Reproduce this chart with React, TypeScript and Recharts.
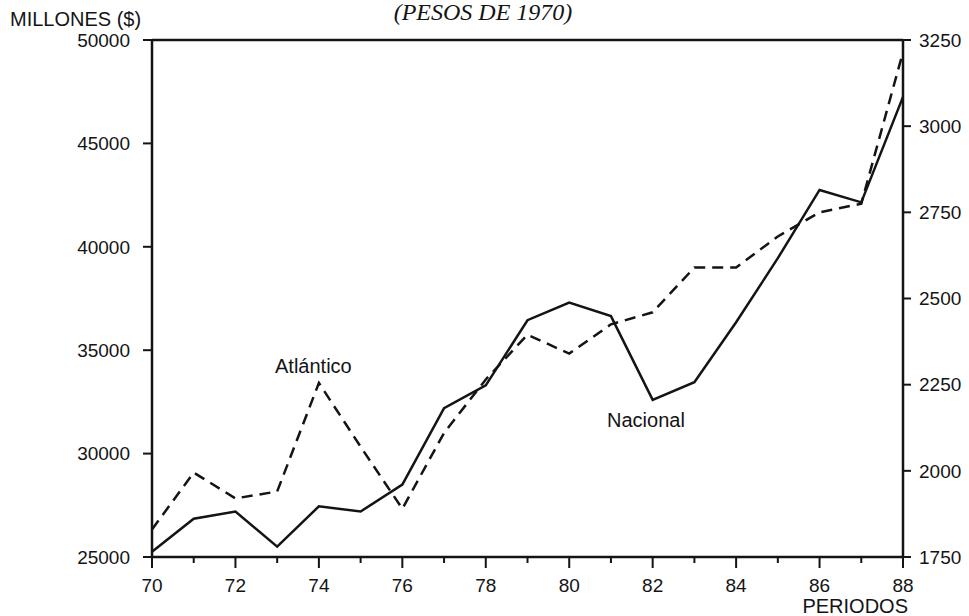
import React from 'react';
import { LineChart, Line, XAxis, YAxis, ReferenceLine } from 'recharts';

// años 1970-1988 (eje de periodos)
const years = [70, 71, 72, 73, 74, 75, 76, 77, 78, 79, 80, 81, 82, 83, 84, 85, 86, 87, 88];
// PIB Nacional, millones de pesos de 1970 (eje izquierdo)
const nacional = [25250, 26850, 27200, 25500, 27450, 27200, 28500, 32200, 33300, 36450, 37300, 36650, 32600, 33450, 36350, 39450, 42750, 42150, 47250];
// PIB Atlántico (eje derecho)
const atlantico = [1830, 1995, 1920, 1940, 2255, 2070, 1890, 2110, 2265, 2395, 2340, 2425, 2460, 2590, 2590, 2680, 2750, 2775, 3215];

const leftTicks = [25000, 30000, 35000, 40000, 45000, 50000];
const rightTicks = [1750, 2000, 2250, 2500, 2750, 3000, 3250];

const FONT = '"Liberation Sans", Arial, Helvetica, sans-serif';
const INK = '#141414';

const data = years.map((year, i) => ({
  year,
  nacional: nacional[i],
  atlantico: atlantico[i],
}));

const YearTick = (props: any) => {
  const { x, y, payload } = props;
  const major = payload.value % 2 === 0;
  return (
    <g>
      <line x1={x} y1={y} x2={x} y2={y + (major ? 11 : 6)} stroke={INK} strokeWidth={2} />
      {major && (
        <text x={x} y={y + 35} textAnchor="middle" fontSize={19} fontFamily={FONT} fill={INK}>
          {payload.value}
        </text>
      )}
    </g>
  );
};

export default function App() {
  return (
    <div style={{ position: 'absolute', left: 0, top: 0, width: 969, height: 616, background: '#fff' }}>
      <LineChart
        width={969}
        height={616}
        data={data}
        margin={{ top: 40, right: 0, left: 92, bottom: 29 }}
      >
        <XAxis
          dataKey="year"
          type="number"
          domain={[70, 88]}
          ticks={years}
          interval={0}
          tickLine={false}
          tickSize={0}
          tickMargin={0}
          height={30}
          axisLine={{ stroke: INK, strokeWidth: 2.5 }}
          tick={<YearTick />}
        />
        <YAxis
          yAxisId="left"
          orientation="left"
          domain={[25000, 50000]}
          ticks={leftTicks}
          interval={0}
          width={60}
          tickSize={9}
          tickMargin={13}
          axisLine={{ stroke: INK, strokeWidth: 2.5 }}
          tickLine={{ stroke: INK, strokeWidth: 2 }}
          tick={{ fill: INK, fontSize: 19, fontFamily: FONT }}
        />
        <YAxis
          yAxisId="right"
          orientation="right"
          domain={[1750, 3250]}
          ticks={rightTicks}
          interval={0}
          width={66}
          tickSize={8}
          tickMargin={8}
          axisLine={{ stroke: INK, strokeWidth: 2.5 }}
          tickLine={{ stroke: INK, strokeWidth: 2 }}
          tick={{ fill: INK, fontSize: 19, fontFamily: FONT, textAnchor: 'start' }}
        />
        <ReferenceLine yAxisId="left" y={50000} stroke={INK} strokeWidth={2.5} />
        <Line
          yAxisId="left"
          dataKey="nacional"
          stroke={INK}
          strokeWidth={2.5}
          dot={false}
          isAnimationActive={false}
        />
        <Line
          yAxisId="right"
          dataKey="atlantico"
          stroke={INK}
          strokeWidth={2.5}
          strokeDasharray="11 7"
          dot={false}
          isAnimationActive={false}
        />
      </LineChart>
      <svg
        width={969}
        height={616}
        style={{ position: 'absolute', left: 0, top: 0, pointerEvents: 'none' }}
      >
        <text x={483} y={20} textAnchor="middle" fontSize={24} fontStyle="italic" fontFamily='"Liberation Serif", "Times New Roman", serif' fill={INK}>
          (PESOS DE 1970)
        </text>
        <text x={10} y={26} fontSize={20} fontFamily={FONT} fill={INK}>MILLONES ($)</text>
        <text x={275} y={373} fontSize={20} fontFamily={FONT} fill={INK}>Atlántico</text>
        <text x={607} y={427} fontSize={20} fontFamily={FONT} fill={INK}>Nacional</text>
        <text x={908} y={613} textAnchor="end" fontSize={20} fontFamily={FONT} fill={INK}>PERIODOS</text>
      </svg>
    </div>
  );
}
